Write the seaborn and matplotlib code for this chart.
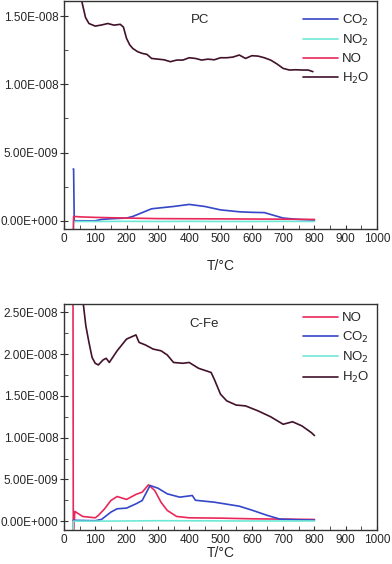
import numpy as np
import pandas as pd
import seaborn as sns
import matplotlib.pyplot as plt
from matplotlib.ticker import FuncFormatter, MultipleLocator

# ---- PC panel data (T in degC, signal) ----
pc_h2o_t = [30, 45, 58, 69, 80, 100, 120, 140, 160, 180, 190, 200, 210, 220, 235, 250, 265, 280, 300, 320,
            340, 360, 380, 400, 420, 440, 460, 480, 500, 520, 540, 560, 580, 600, 620, 640, 660, 680, 700,
            720, 740, 760, 780, 795]
pc_h2o = [2.0e-8, 1.75e-8, 1.6e-8, 1.49e-8, 1.446e-8, 1.427e-8, 1.435e-8, 1.446e-8, 1.434e-8, 1.44e-8,
          1.42e-8, 1.337e-8, 1.29e-8, 1.263e-8, 1.24e-8, 1.227e-8, 1.22e-8, 1.19e-8, 1.185e-8, 1.18e-8,
          1.166e-8, 1.178e-8, 1.178e-8, 1.195e-8, 1.19e-8, 1.178e-8, 1.185e-8, 1.18e-8, 1.195e-8,
          1.195e-8, 1.2e-8, 1.215e-8, 1.19e-8, 1.21e-8, 1.207e-8, 1.195e-8, 1.178e-8, 1.15e-8, 1.117e-8,
          1.105e-8, 1.107e-8, 1.105e-8, 1.105e-8, 1.093e-8]
pc_co2_t = [30, 31, 33, 60, 100, 120, 150, 200, 220, 250, 280, 300, 350, 400, 450, 500, 560, 600, 640,
            670, 700, 750, 800]
pc_co2 = [3.8e-9, 3.8e-9, 0.0, 0.0, 0.0, 0.1e-9, 0.15e-9, 0.2e-9, 0.32e-9, 0.6e-9, 0.88e-9, 0.93e-9,
          1.05e-9, 1.2e-9, 1.05e-9, 0.8e-9, 0.66e-9, 0.62e-9, 0.6e-9, 0.4e-9, 0.2e-9, 0.1e-9, 0.05e-9]
pc_no_t = [30, 31, 60, 100, 200, 300, 400, 500, 600, 700, 800]
pc_no = [-1.0e-9, 0.32e-9, 0.28e-9, 0.25e-9, 0.2e-9, 0.16e-9, 0.15e-9, 0.14e-9, 0.13e-9, 0.12e-9, 0.1e-9]
pc_no2_t = [30, 31, 100, 200, 300, 400, 500, 600, 700, 800]
pc_no2 = [-1.0e-9, -0.05e-9, -0.05e-9, -0.04e-9, -0.05e-9, -0.04e-9, -0.05e-9, -0.05e-9, -0.04e-9, -0.05e-9]

# ---- C-Fe panel data ----
cf_h2o_t = [58, 62, 70, 80, 90, 100, 110, 125, 135, 145, 170, 200, 230, 240, 260, 285, 310, 330, 350,
            380, 400, 430, 470, 480, 500, 520, 550, 580, 620, 660, 700, 730, 760, 790, 800]
cf_h2o = [2.8e-8, 2.6e-8, 2.34e-8, 2.14e-8, 1.96e-8, 1.89e-8, 1.87e-8, 1.93e-8, 1.95e-8, 1.9e-8,
          2.04e-8, 2.18e-8, 2.23e-8, 2.14e-8, 2.11e-8, 2.06e-8, 2.04e-8, 1.99e-8, 1.9e-8, 1.89e-8,
          1.9e-8, 1.83e-8, 1.78e-8, 1.7e-8, 1.52e-8, 1.44e-8, 1.39e-8, 1.38e-8, 1.32e-8, 1.25e-8,
          1.16e-8, 1.19e-8, 1.14e-8, 1.06e-8, 1.025e-8]
cf_no_t = [29, 30, 35, 60, 100, 110, 130, 150, 170, 200, 230, 250, 270, 290, 310, 330, 360, 400, 500,
           600, 800]
cf_no = [3.0e-8, -2.0e-9, 1.16e-9, 0.56e-9, 0.4e-9, 0.68e-9, 1.48e-9, 2.47e-9, 2.95e-9, 2.6e-9, 3.2e-9,
         3.47e-9, 4.35e-9, 3.67e-9, 2.27e-9, 1.28e-9, 0.56e-9, 0.4e-9, 0.36e-9, 0.28e-9, 0.2e-9]
cf_co2_t = [30, 100, 120, 150, 170, 200, 230, 250, 275, 300, 330, 370, 410, 420, 480, 560, 600, 650,
            690, 750, 800]
cf_co2 = [0.1e-9, 0.05e-9, 0.2e-9, 1.08e-9, 1.48e-9, 1.56e-9, 2.07e-9, 2.47e-9, 4.27e-9, 3.95e-9,
          3.27e-9, 2.87e-9, 3.07e-9, 2.5e-9, 2.27e-9, 1.79e-9, 1.32e-9, 0.68e-9, 0.24e-9, 0.16e-9, 0.12e-9]
cf_no2_t = [30, 31, 100, 200, 300, 400, 500, 600, 700, 800]
cf_no2 = [-2.0e-9, 0.0, 0.0, 0.02e-9, 0.05e-9, 0.04e-9, 0.03e-9, 0.02e-9, 0.02e-9, 0.02e-9]

colors = {'CO$_2$': '#3546c8', 'NO$_2$': '#6ee8d6', 'NO': '#e8285a', 'H$_2$O': '#42112a'}

sns.set_style('ticks')
plt.rcParams['font.family'] = ['Liberation Sans', 'DejaVu Sans']


def sci_fmt(v, pos):
    if v == 0:
        return '0.00E+000'
    exp = int(np.floor(np.log10(abs(v))))
    mant = v / 10 ** exp
    sign = '+' if exp >= 0 else '-'
    return f'{mant:.2f}E{sign}{abs(exp):03d}'


def style_axis(ax, ylim, ymaj):
    ax.set_xlim(0, 1000)
    ax.set_ylim(*ylim)
    ax.xaxis.set_major_locator(MultipleLocator(100))
    ax.xaxis.set_minor_locator(MultipleLocator(50))
    ax.yaxis.set_major_locator(MultipleLocator(ymaj))
    ax.yaxis.set_minor_locator(MultipleLocator(ymaj / 2))
    ax.yaxis.set_major_formatter(FuncFormatter(sci_fmt))
    ax.tick_params(axis='x', which='both', direction='in', length=3, labelsize=8.5, pad=3, color='#333333')
    ax.tick_params(axis='y', which='major', direction='inout', length=6, labelsize=8.5, pad=1, color='#333333')
    ax.tick_params(axis='y', which='minor', direction='in', length=3, color='#333333')
    for s in ax.spines.values():
        s.set_visible(True)
        s.set_color('#333333')
        s.set_linewidth(1.0)
    ax.set_ylabel('')


fig = plt.figure(figsize=(3.92, 5.64), dpi=100)
ax1 = fig.add_axes([0.163, 0.594, 0.799, 0.404])
ax2 = fig.add_axes([0.163, 0.060, 0.799, 0.401])

top_series = [('CO$_2$', pc_co2_t, pc_co2), ('NO$_2$', pc_no2_t, pc_no2),
              ('NO', pc_no_t, pc_no), ('H$_2$O', pc_h2o_t, pc_h2o)]
for name, t, v in top_series:
    sns.lineplot(x=t, y=v, ax=ax1, color=colors[name], label=name, linewidth=1.2, sort=False)

bottom_series = [('NO', cf_no_t, cf_no), ('CO$_2$', cf_co2_t, cf_co2),
                 ('NO$_2$', cf_no2_t, cf_no2), ('H$_2$O', cf_h2o_t, cf_h2o)]
for name, t, v in bottom_series:
    sns.lineplot(x=t, y=v, ax=ax2, color=colors[name], label=name, linewidth=1.2, sort=False)

style_axis(ax1, (-0.6e-9, 1.61e-8), 5e-9)
style_axis(ax2, (-1.08e-9, 2.6e-8), 5e-9)

ax1.set_xlabel('T/\u00b0C', fontsize=10, labelpad=10)
ax2.set_xlabel('T/\u00b0C', fontsize=10, labelpad=0)

ax1.text(436, 1.47e-8, 'PC', fontsize=9.5, ha='center', va='center')
ax2.text(447, 2.36e-8, 'C-Fe', fontsize=9.5, ha='center', va='center')

for ax, anchor_y in ((ax1, 0.985), (ax2, 1.0)):
    ax.legend(loc='upper right', frameon=False, fontsize=9.5, handlelength=2.6,
              handletextpad=0.3, labelspacing=0.4, borderaxespad=0.2,
              bbox_to_anchor=(1.0, anchor_y))

fig.savefig('out.png', dpi=100)
